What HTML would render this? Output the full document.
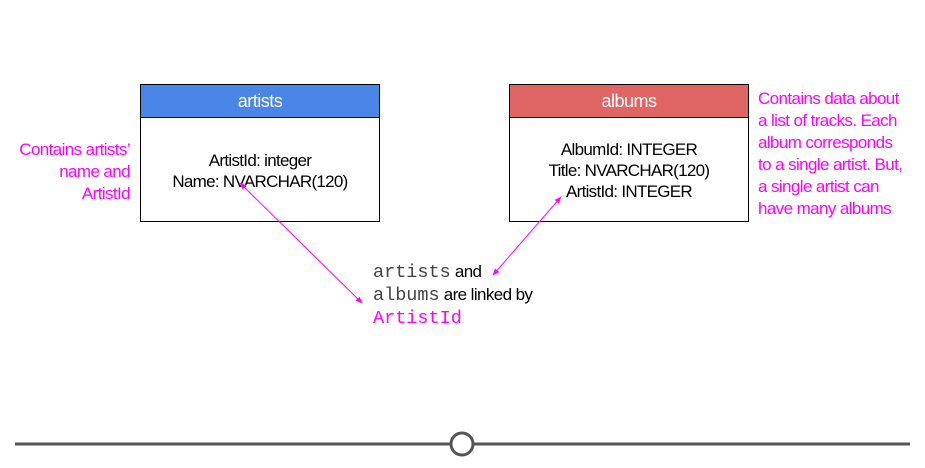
<!DOCTYPE html>
<html><head><style>
body{margin:0;width:925px;height:468px;background:#fff;position:relative;overflow:hidden;font-family:"Liberation Sans",sans-serif;}
.box{position:absolute;border:1.5px solid #000;box-sizing:border-box;background:#fff}
.hd{height:32px;border-bottom:1.5px solid #000;color:#fff;font-size:18px;text-align:center;line-height:32px;letter-spacing:-0.5px}
.bd{text-align:center;font-size:17px;line-height:21px;color:#000;letter-spacing:-0.7px}
.mag{position:absolute;color:#ff00ff;font-size:17px;line-height:22px;letter-spacing:-0.6px}
.mono{font-family:"Liberation Mono",monospace;font-size:18.5px;letter-spacing:0}
</style></head><body>
<div class="box" style="left:140px;top:84px;width:240px;height:138px">
 <div class="hd" style="background:#4a86e8">artists</div>
 <div class="bd" style="padding-top:32px">ArtistId: integer<br>Name: NVARCHAR(120)</div>
</div>
<div class="box" style="left:509px;top:84px;width:240px;height:138px">
 <div class="hd" style="background:#e06666">albums</div>
 <div class="bd" style="padding-top:21px">AlbumId: INTEGER<br>Title: NVARCHAR(120)<br>ArtistId: INTEGER</div>
</div>
<div class="mag" style="left:0;width:130px;top:139px;text-align:right">Contains artists’<br>name and<br>ArtistId</div>
<div class="mag" style="left:758px;top:88px">Contains data about<br>a list of tracks. Each<br>album corresponds<br>to a single artist. But,<br>a single artist can<br>have many albums</div>
<div style="position:absolute;left:373px;top:261px;font-size:17px;line-height:22px;color:#000;letter-spacing:-0.6px">
<span class="mono" style="color:#444">artists</span> and<br><span class="mono" style="color:#444">albums</span> are linked by<br><span class="mono" style="color:#ff00ff">ArtistId</span></div>
<svg width="925" height="468" style="position:absolute;left:0;top:0">
<defs><marker id="a" viewBox="0 0 10 10" refX="9" refY="5" markerWidth="7" markerHeight="7" orient="auto-start-reverse"><path d="M0,1 L10,5 L0,9 z" fill="#ff00ff"/></marker></defs>
<line x1="240" y1="183" x2="362" y2="303" stroke="#ff00ff" stroke-width="1" marker-start="url(#a)" marker-end="url(#a)"/>
<line x1="561" y1="197" x2="493" y2="275" stroke="#ff00ff" stroke-width="1" marker-start="url(#a)" marker-end="url(#a)"/>
<line x1="15" y1="444" x2="451" y2="444" stroke="#555" stroke-width="3"/>
<line x1="473" y1="444" x2="910" y2="444" stroke="#555" stroke-width="3"/>
<circle cx="462" cy="444" r="11" fill="#fff" stroke="#555" stroke-width="3"/>
</svg>
</body></html>
